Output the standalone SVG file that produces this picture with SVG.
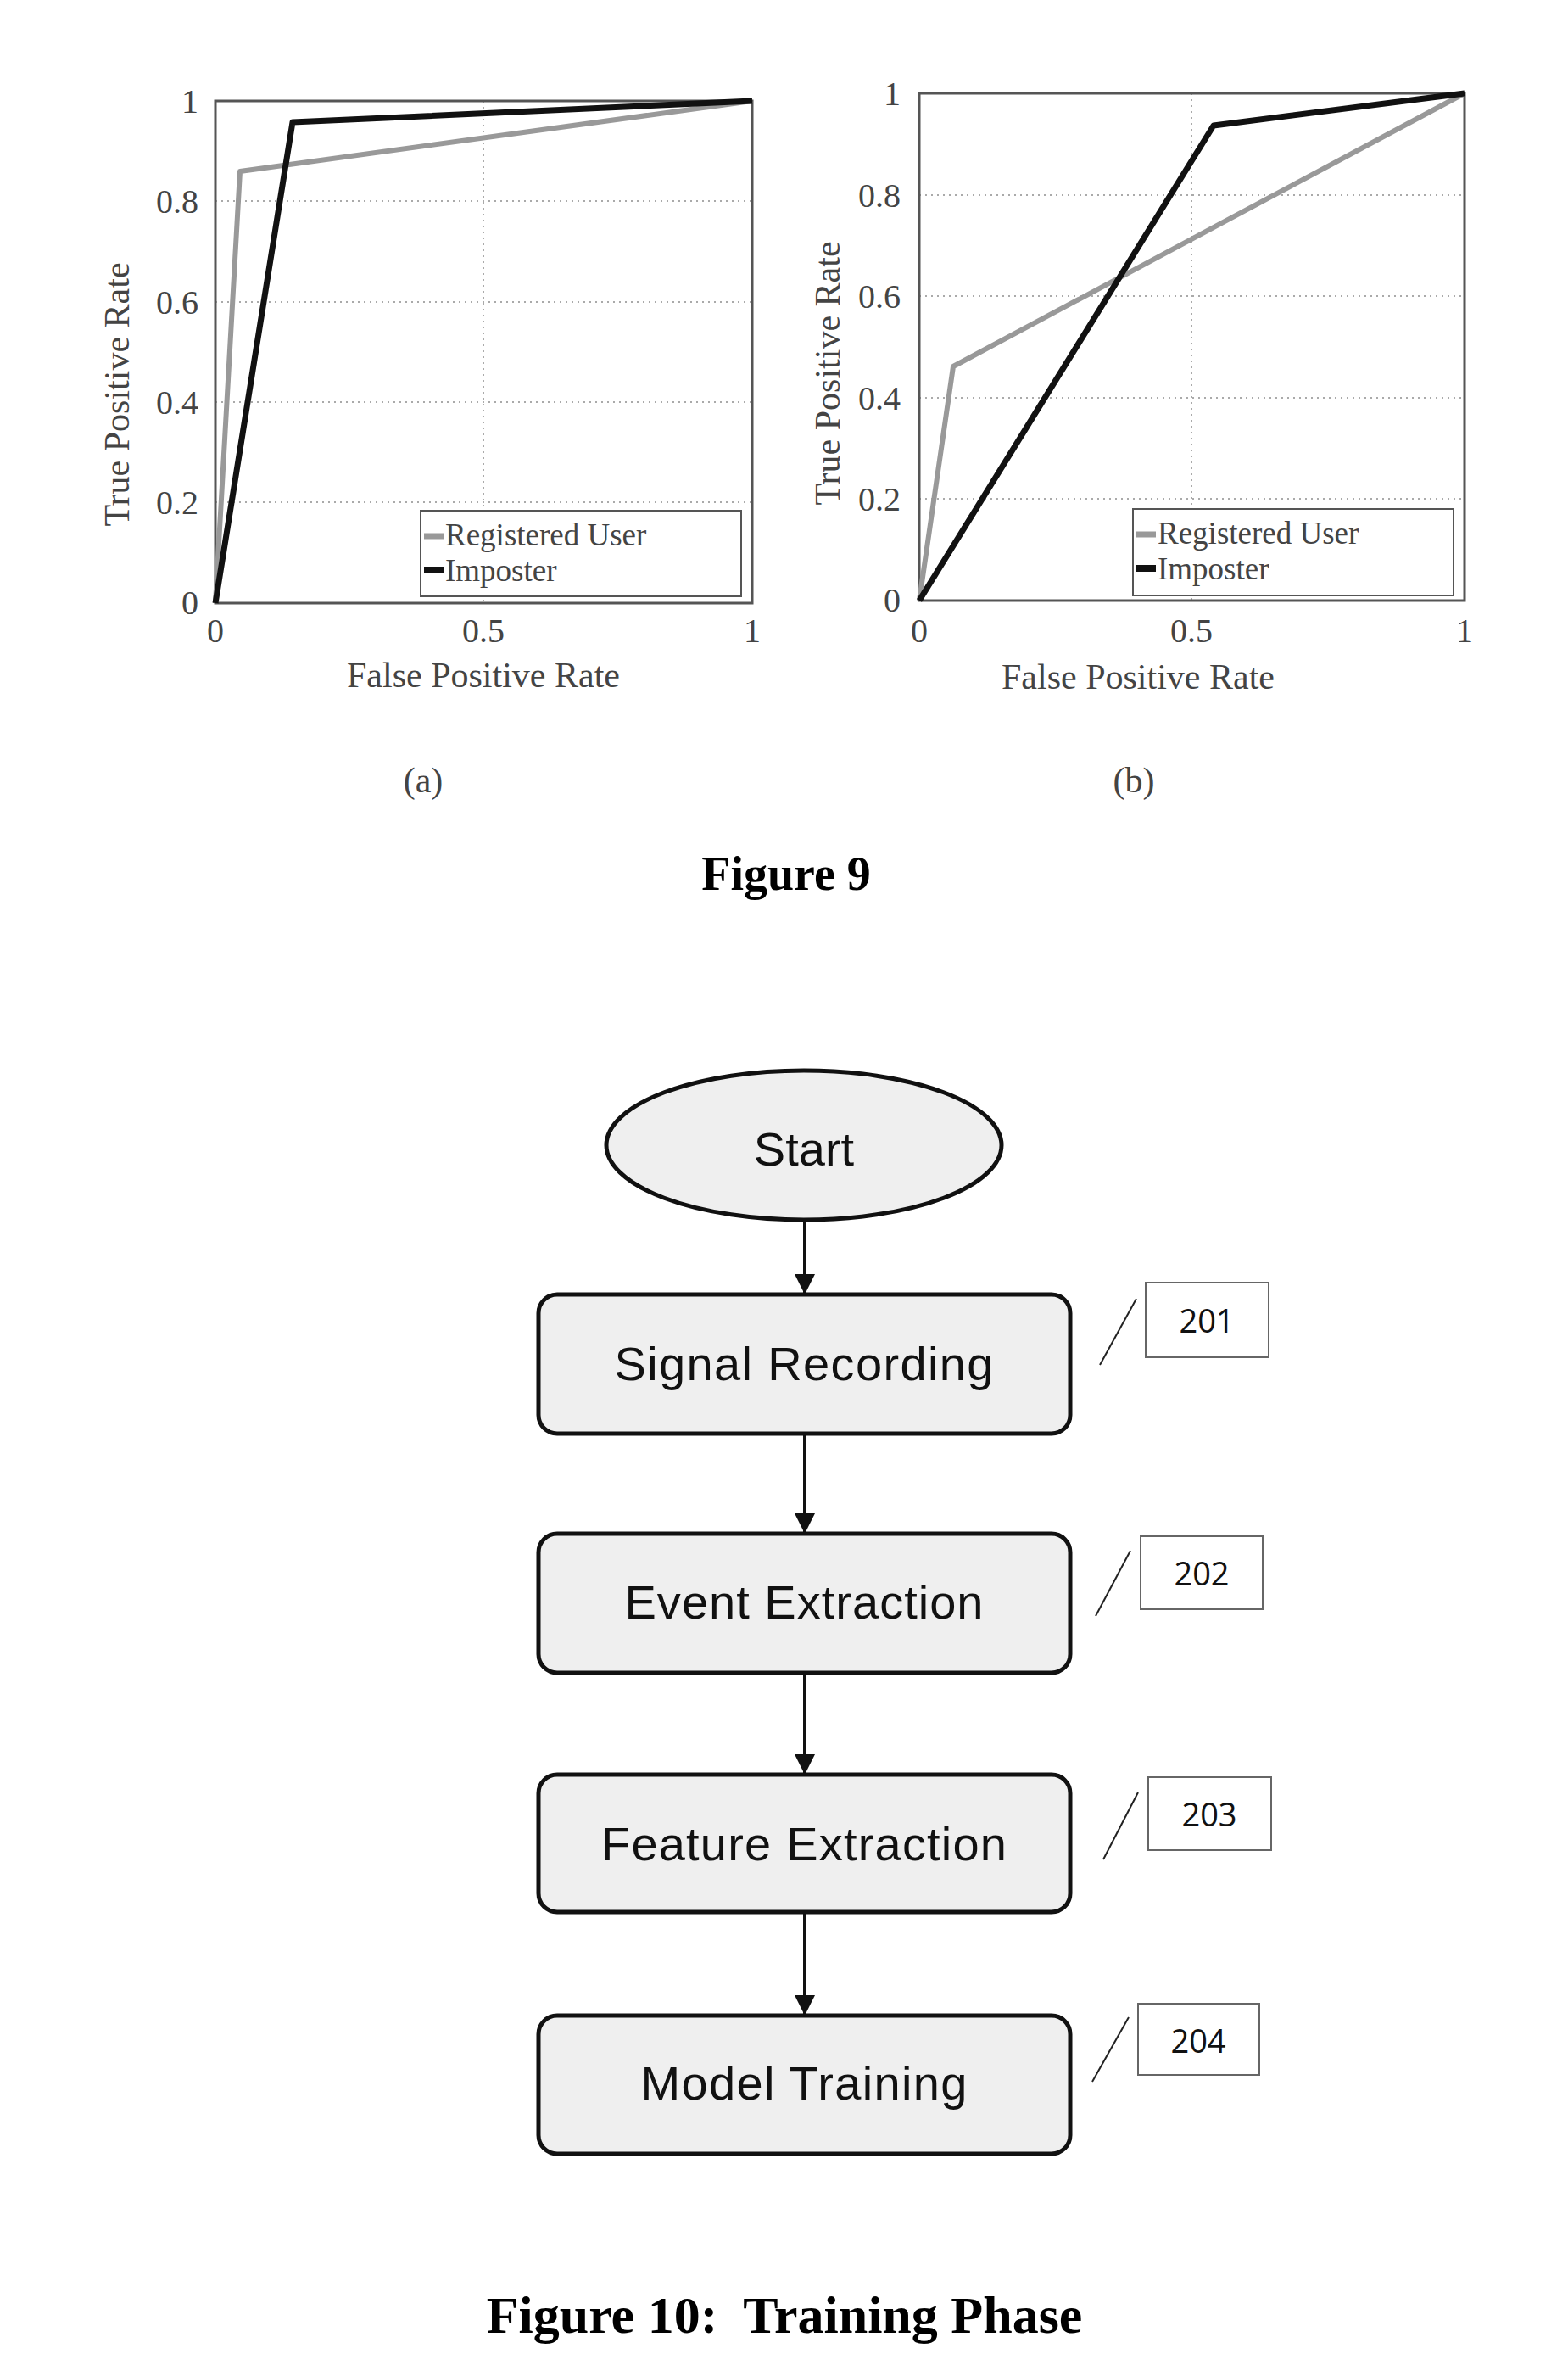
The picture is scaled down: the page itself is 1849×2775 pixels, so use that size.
<svg xmlns="http://www.w3.org/2000/svg" width="1849" height="2775" viewBox="0 0 1849 2775">
<style>
.ax{fill:none;stroke:#555;stroke-width:3}
.grid{stroke:#aaa;stroke-width:2;stroke-dasharray:2 5}
.reg{fill:none;stroke:#999;stroke-width:6;stroke-linejoin:round}
.imp{fill:none;stroke:#111;stroke-width:7;stroke-linejoin:round}
.tk{font-family:"Liberation Serif",serif;font-size:40px;fill:#444}
.lab{font-family:"Liberation Serif",serif;font-size:42px;fill:#444}
.lt{font-family:"Liberation Serif",serif;font-size:37px;fill:#444}
.leg{fill:#fff;stroke:#555;stroke-width:2}
.node{fill:#efefef;stroke:#111;stroke-width:5}
.nt{font-family:"Liberation Sans",Arial,sans-serif;font-size:56px;fill:#111;text-anchor:middle}
.ref{fill:#fff;stroke:#666;stroke-width:2}
.rt{font-family:"Open Sans","Liberation Sans",sans-serif;font-size:38px;fill:#111;text-anchor:middle}
.sl{stroke:#222;stroke-width:2}
.cap{font-family:"Liberation Serif",serif;font-weight:bold;fill:#000;text-anchor:middle}
.con{stroke:#111;stroke-width:4;fill:none;marker-end:url(#ah)}
</style>
<defs>
<marker id="ah" viewBox="0 0 10 10" refX="10" refY="5" markerWidth="6" markerHeight="6" markerUnits="strokeWidth" orient="auto"><path d="M0,0 L10,5 L0,10 z" fill="#111"/></marker>
</defs>
<rect width="1849" height="2775" fill="#fff"/>
<g id="plot-a">
<line class="grid" x1="570" y1="119" x2="570" y2="711"/>
<line class="grid" x1="254" y1="592" x2="887" y2="592"/>
<line class="grid" x1="254" y1="474" x2="887" y2="474"/>
<line class="grid" x1="254" y1="356" x2="887" y2="356"/>
<line class="grid" x1="254" y1="237" x2="887" y2="237"/>
<rect class="ax" x="254" y="119" width="633" height="592"/>
<polyline class="reg" points="254,711 283,202 887,119"/>
<polyline class="imp" points="254,711 345,144 887,119"/>
<g class="tk" text-anchor="end">
<text x="234" y="133">1</text><text x="234" y="251">0.8</text><text x="234" y="370">0.6</text><text x="234" y="488">0.4</text><text x="234" y="606">0.2</text><text x="234" y="724">0</text>
</g>
<g class="tk" text-anchor="middle"><text x="254" y="757">0</text><text x="570" y="757">0.5</text><text x="887" y="757">1</text></g>
<text class="lab" x="570" y="810" text-anchor="middle">False Positive Rate</text>
<text class="lab" transform="translate(152,465) rotate(-90)" text-anchor="middle">True Positive Rate</text>
<rect class="leg" x="496" y="602" width="378" height="101"/>
<line x1="500" y1="632" x2="523" y2="632" stroke="#999" stroke-width="7"/>
<line x1="500" y1="672" x2="523" y2="672" stroke="#111" stroke-width="8"/>
<text class="lt" x="525" y="643">Registered User</text>
<text class="lt" x="525" y="685">Imposter</text>
<text class="lab" x="499" y="934" text-anchor="middle">(a)</text>
</g>
<g id="plot-b">
<line class="grid" x1="1405" y1="110" x2="1405" y2="708"/>
<line class="grid" x1="1084" y1="588" x2="1727" y2="588"/>
<line class="grid" x1="1084" y1="469" x2="1727" y2="469"/>
<line class="grid" x1="1084" y1="349" x2="1727" y2="349"/>
<line class="grid" x1="1084" y1="230" x2="1727" y2="230"/>
<rect class="ax" x="1084" y="110" width="643" height="598"/>
<polyline class="reg" points="1084,708 1124,432 1727,110"/>
<polyline class="imp" points="1084,708 1431,148 1727,110"/>
<g class="tk" text-anchor="end">
<text x="1062" y="124">1</text><text x="1062" y="244">0.8</text><text x="1062" y="363">0.6</text><text x="1062" y="483">0.4</text><text x="1062" y="602">0.2</text><text x="1062" y="721">0</text>
</g>
<g class="tk" text-anchor="middle"><text x="1084" y="757">0</text><text x="1405" y="757">0.5</text><text x="1727" y="757">1</text></g>
<text class="lab" x="1342" y="812" text-anchor="middle">False Positive Rate</text>
<text class="lab" transform="translate(990,440) rotate(-90)" text-anchor="middle">True Positive Rate</text>
<rect class="leg" x="1336" y="600" width="378" height="102"/>
<line x1="1340" y1="630" x2="1363" y2="630" stroke="#999" stroke-width="7"/>
<line x1="1340" y1="670" x2="1363" y2="670" stroke="#111" stroke-width="8"/>
<text class="lt" x="1365" y="641">Registered User</text>
<text class="lt" x="1365" y="683">Imposter</text>
<text class="lab" x="1337" y="934" text-anchor="middle">(b)</text>
</g>
<text class="cap" x="927" y="1049" font-size="56">Figure 9</text>
<g id="connectors">
<line class="con" x1="949" y1="1438" x2="949" y2="1526"/>
<line class="con" x1="949" y1="1690" x2="949" y2="1808"/>
<line class="con" x1="949" y1="1972" x2="949" y2="2092"/>
<line class="con" x1="949" y1="2254" x2="949" y2="2376"/>
</g>
<g id="start"><ellipse class="node" cx="948" cy="1350" rx="233" ry="88"/><text class="nt" x="948" y="1374">Start</text></g>
<g id="n201"><rect class="node" x="635" y="1526" width="627" height="164" rx="22"/><text class="nt" x="948" y="1627" textLength="447">Signal Recording</text>
<line class="sl" x1="1297" y1="1609" x2="1340" y2="1531"/><rect class="ref" x="1351" y="1512" width="145" height="88"/><text class="rt" x="1423" y="1571">201</text></g>
<g id="n202"><rect class="node" x="635" y="1808" width="627" height="164" rx="22"/><text class="nt" x="948" y="1908" textLength="423">Event Extraction</text>
<line class="sl" x1="1292" y1="1905" x2="1333" y2="1828"/><rect class="ref" x="1345" y="1811" width="144" height="86"/><text class="rt" x="1417" y="1869">202</text></g>
<g id="n203"><rect class="node" x="635" y="2092" width="627" height="162" rx="22"/><text class="nt" x="948" y="2193" textLength="478">Feature Extraction</text>
<line class="sl" x1="1301" y1="2192" x2="1342" y2="2113"/><rect class="ref" x="1354" y="2095" width="145" height="86"/><text class="rt" x="1426" y="2153">203</text></g>
<g id="n204"><rect class="node" x="635" y="2376" width="627" height="163" rx="22"/><text class="nt" x="948" y="2475" textLength="385">Model Training</text>
<line class="sl" x1="1288" y1="2454" x2="1331" y2="2378"/><rect class="ref" x="1342" y="2362" width="143" height="84"/><text class="rt" x="1413" y="2420">204</text></g>
<text class="cap" x="925" y="2750" font-size="62">Figure 10:&#160; Training Phase</text>
</svg>
